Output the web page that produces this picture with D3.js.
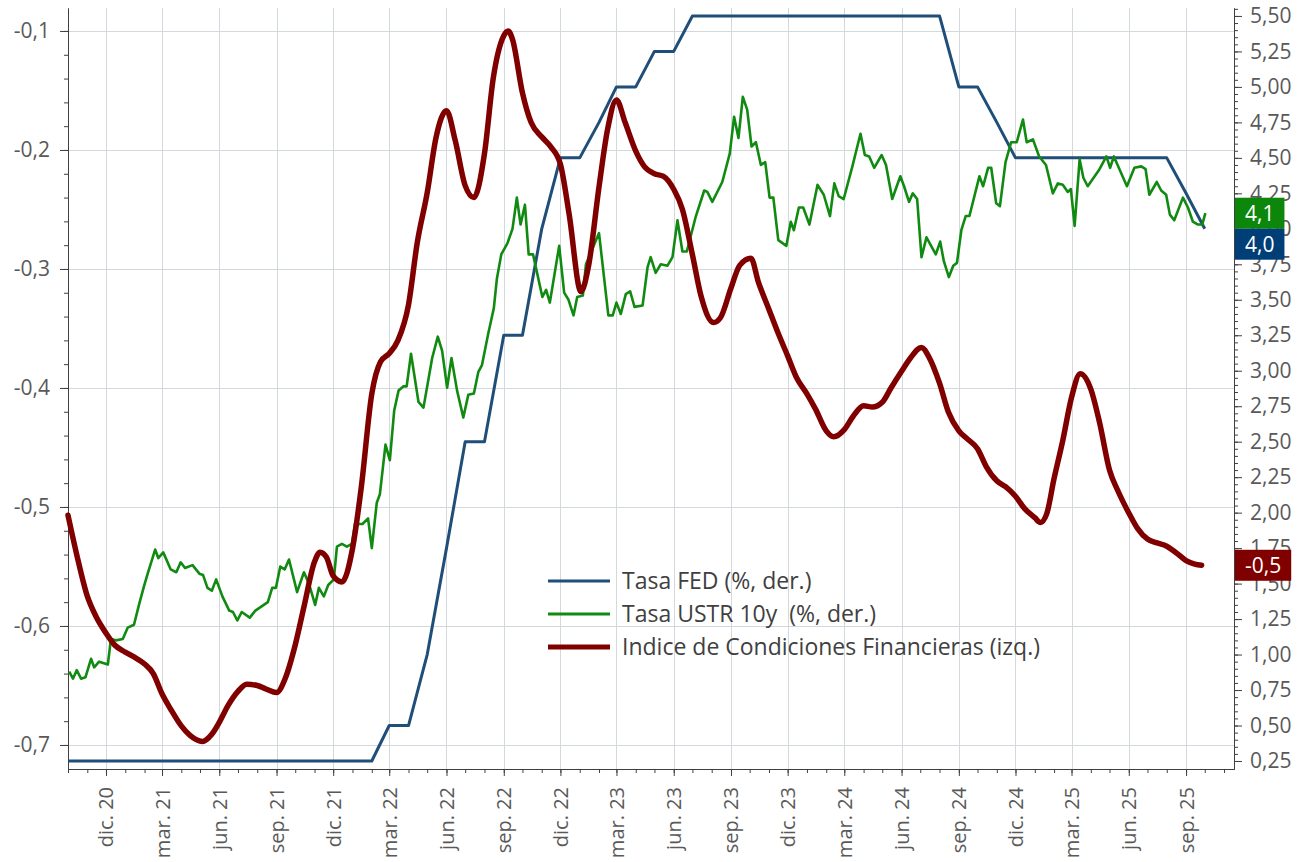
<!DOCTYPE html>
<html>
<head>
<meta charset="utf-8">
<script src="https://cdn.jsdelivr.net/npm/d3@7"></script>
<style>
  body { margin: 0; background: #fff; }
  text { font-family: "Open Sans", "Noto Sans", sans-serif; }
</style>
</head>
<body>
<script>

// ---- data ----

// Tasa FED (%), monthly, first point Oct 2020
var fedStart = "2020-10-01";
var fedValues = [
  0.25, 0.25, 0.25, 0.25, 0.25, 0.25, 0.25, 0.25, 0.25, 0.25, 0.25, 0.25,
  0.25, 0.25, 0.25, 0.25, 0.25,
  0.5, 0.5, 1.0, 1.75, 2.5, 2.5, 3.25, 3.25, 4.0, 4.5,
  4.5, 4.75, 5.0, 5.0, 5.25, 5.25, 5.5, 5.5, 5.5, 5.5, 5.5, 5.5,
  5.5, 5.5, 5.5, 5.5, 5.5, 5.5, 5.5, 5.5, 5.0, 5.0, 4.75, 4.5,
  4.5, 4.5, 4.5, 4.5, 4.5, 4.5, 4.5, 4.5, 4.25, 4.0
];

// Tasa USTR 10y (%)
var ustrDates = [
  "2020-10-03","2020-10-09","2020-10-15","2020-10-22","2020-10-29","2020-11-07","2020-11-12","2020-11-20",
  "2020-12-04","2020-12-09","2020-12-17","2020-12-28","2021-01-05","2021-01-15","2021-01-23","2021-01-31",
  "2021-02-06","2021-02-18","2021-02-23","2021-03-03","2021-03-15","2021-03-24","2021-03-31","2021-04-07",
  "2021-04-19","2021-04-30","2021-05-06","2021-05-13","2021-05-20","2021-05-27","2021-06-06","2021-06-17",
  "2021-06-23","2021-06-30","2021-07-07","2021-07-20","2021-07-29","2021-08-18","2021-08-25","2021-08-31",
  "2021-09-07","2021-09-14","2021-09-21","2021-10-04","2021-10-15","2021-10-23","2021-11-02","2021-11-08",
  "2021-11-16","2021-11-23","2021-12-02","2021-12-07","2021-12-15","2021-12-23","2021-12-31","2022-01-05",
  "2022-01-17","2022-01-26","2022-02-01","2022-02-09","2022-02-14","2022-02-23","2022-03-02","2022-03-09",
  "2022-03-16","2022-03-24","2022-03-29","2022-04-05","2022-04-17","2022-04-25","2022-05-09","2022-05-18",
  "2022-05-25","2022-06-02","2022-06-09","2022-06-18","2022-06-28","2022-07-06","2022-07-15","2022-07-22",
  "2022-07-28","2022-08-07","2022-08-16","2022-08-21","2022-08-28","2022-09-07","2022-09-15","2022-09-22",
  "2022-09-28","2022-10-05","2022-10-11","2022-10-18","2022-11-02","2022-11-08","2022-11-14","2022-11-29",
  "2022-12-07","2022-12-14","2022-12-22","2022-12-28","2023-01-06","2023-01-11","2023-02-01","2023-02-16",
  "2023-02-23","2023-03-01","2023-03-08","2023-03-16","2023-03-23","2023-03-30","2023-04-12","2023-04-20",
  "2023-04-25","2023-05-03","2023-05-11","2023-05-22","2023-05-30","2023-06-07","2023-06-15","2023-06-22",
  "2023-07-06","2023-07-20","2023-07-25","2023-08-02","2023-08-18","2023-08-30","2023-09-06","2023-09-13",
  "2023-09-20","2023-09-27","2023-10-04","2023-10-11","2023-10-19","2023-10-26","2023-11-02","2023-11-08",
  "2023-11-16","2023-11-29","2023-12-06","2023-12-11","2023-12-19","2023-12-26","2024-01-05","2024-01-18",
  "2024-01-28","2024-02-07","2024-02-14","2024-02-21","2024-02-29","2024-03-14","2024-03-27","2024-04-03",
  "2024-04-10","2024-04-18","2024-04-30","2024-05-07","2024-05-17","2024-05-30","2024-06-05","2024-06-13",
  "2024-06-19","2024-06-26","2024-07-03","2024-07-11","2024-07-26","2024-08-02","2024-08-08","2024-08-16",
  "2024-08-23","2024-08-29","2024-09-05","2024-09-12","2024-09-18","2024-10-04","2024-10-10","2024-10-18",
  "2024-10-23","2024-10-31","2024-11-06","2024-11-15","2024-11-24","2024-12-03","2024-12-13","2024-12-19",
  "2024-12-29","2025-01-08","2025-01-19","2025-01-30","2025-02-07","2025-02-15","2025-02-23","2025-02-28",
  "2025-03-06","2025-03-14","2025-03-20","2025-03-27","2025-04-15","2025-04-26","2025-05-02","2025-05-08",
  "2025-05-17","2025-05-29","2025-06-10","2025-06-21","2025-06-28","2025-07-04","2025-07-16","2025-07-23",
  "2025-07-31","2025-08-06","2025-08-13","2025-08-27","2025-09-04","2025-09-12","2025-09-20","2025-09-27",
  "2025-10-02"
];
var ustrValues = [
  0.88, 0.83, 0.89, 0.83, 0.84, 0.97, 0.91, 0.95,
  0.93, 1.11, 1.10, 1.11, 1.19, 1.21, 1.35, 1.48,
  1.57, 1.74, 1.68, 1.72, 1.60, 1.58, 1.65, 1.61,
  1.63, 1.57, 1.56, 1.47, 1.45, 1.53, 1.41, 1.31,
  1.30, 1.24, 1.30, 1.26, 1.31, 1.37, 1.47, 1.47,
  1.62, 1.60, 1.67, 1.44, 1.58, 1.50, 1.35, 1.47,
  1.41, 1.49, 1.53, 1.76, 1.78, 1.76, 1.78, 1.92,
  1.92, 1.96, 1.75, 2.07, 2.13, 2.48, 2.37, 2.72,
  2.86, 2.89, 2.89, 3.12, 2.78, 2.74, 3.09, 3.24,
  3.14, 2.88, 3.09, 2.86, 2.67, 2.83, 2.84, 2.99,
  3.04, 3.26, 3.44, 3.65, 3.82, 3.90, 4.00, 4.22,
  4.03, 4.17, 3.82, 3.82, 3.52, 3.57, 3.48, 3.88,
  3.55, 3.50, 3.39, 3.52, 3.53, 3.75, 3.97, 3.39,
  3.39, 3.48, 3.40, 3.54, 3.56, 3.45, 3.46, 3.73,
  3.80, 3.69, 3.75, 3.74, 3.80, 4.06, 3.84, 3.84,
  4.08, 4.27, 4.26, 4.19, 4.33, 4.53, 4.79, 4.64,
  4.93, 4.84, 4.58, 4.61, 4.45, 4.47, 4.22, 4.22,
  3.92, 3.88, 4.05, 3.99, 4.15, 4.15, 4.03, 4.31,
  4.24, 4.09, 4.32, 4.23, 4.21, 4.44, 4.67, 4.52,
  4.51, 4.43, 4.52, 4.45, 4.21, 4.37, 4.30, 4.19,
  4.25, 4.21, 3.80, 3.94, 3.82, 3.91, 3.77, 3.66,
  3.74, 3.76, 3.99, 4.09, 4.09, 4.37, 4.30, 4.43,
  4.43, 4.18, 4.16, 4.47, 4.61, 4.61, 4.77, 4.61,
  4.63, 4.51, 4.45, 4.25, 4.32, 4.31, 4.26, 4.28,
  4.02, 4.49, 4.36, 4.30, 4.42, 4.51, 4.43, 4.51,
  4.42, 4.30, 4.43, 4.44, 4.42, 4.24, 4.33, 4.27,
  4.24, 4.10, 4.06, 4.22, 4.15, 4.05, 4.03, 4.03,
  4.11
];

// Indice de Condiciones Financieras (izq.)
var icfDates = [
  "2020-10-01","2020-10-15","2020-11-01","2020-11-15","2020-12-01","2020-12-15","2021-01-01","2021-01-15",
  "2021-02-01","2021-02-15","2021-03-01","2021-03-15","2021-04-01","2021-04-15","2021-05-05","2021-05-20",
  "2021-06-01","2021-06-15","2021-07-01","2021-07-15","2021-08-01","2021-08-15","2021-09-01","2021-09-15",
  "2021-10-01","2021-10-15","2021-11-01","2021-11-10","2021-11-20","2021-12-01","2021-12-15","2022-01-01",
  "2022-01-15","2022-02-01","2022-02-15","2022-03-01","2022-03-15","2022-04-01","2022-04-15","2022-05-01",
  "2022-05-15","2022-06-01","2022-06-15","2022-07-01","2022-07-15","2022-08-01","2022-08-15","2022-09-01",
  "2022-09-08","2022-09-15","2022-10-01","2022-10-15","2022-11-01","2022-11-15","2022-12-01","2022-12-15",
  "2023-01-03","2023-01-15","2023-02-01","2023-02-15","2023-03-01","2023-03-15","2023-04-01","2023-04-15",
  "2023-05-01","2023-05-15","2023-06-01","2023-06-15","2023-07-01","2023-07-15","2023-08-04","2023-08-15",
  "2023-09-01","2023-09-15","2023-10-03","2023-10-15","2023-11-01","2023-11-15","2023-12-01","2023-12-15",
  "2024-01-01","2024-01-15","2024-02-01","2024-02-13","2024-03-01","2024-03-15","2024-04-01","2024-04-15",
  "2024-05-01","2024-05-15","2024-06-01","2024-06-15","2024-07-03","2024-07-15","2024-08-01","2024-08-15",
  "2024-09-01","2024-09-15","2024-10-01","2024-10-15","2024-11-01","2024-11-15","2024-12-01","2024-12-15",
  "2025-01-01","2025-01-10","2025-01-20","2025-02-01","2025-02-15","2025-03-01","2025-03-15","2025-04-01",
  "2025-04-15","2025-05-01","2025-05-15","2025-06-01","2025-06-15","2025-07-01","2025-07-15","2025-08-01",
  "2025-08-15","2025-09-01","2025-09-15","2025-09-26"
];
var icfValues = [
  -0.507, -0.540, -0.575, -0.592, -0.606, -0.616, -0.622, -0.626,
  -0.632, -0.640, -0.657, -0.670, -0.684, -0.692, -0.697, -0.691,
  -0.681, -0.667, -0.655, -0.649, -0.650, -0.653, -0.656, -0.644,
  -0.616, -0.584, -0.546, -0.538, -0.542, -0.558, -0.563, -0.535,
  -0.484, -0.405, -0.378, -0.371, -0.360, -0.330, -0.278, -0.236,
  -0.190, -0.167, -0.192, -0.230, -0.240, -0.203, -0.140, -0.104,
  -0.100, -0.107, -0.152, -0.177, -0.189, -0.197, -0.212, -0.254,
  -0.319, -0.298, -0.231, -0.182, -0.158, -0.177, -0.201, -0.214,
  -0.220, -0.222, -0.233, -0.250, -0.288, -0.323, -0.345, -0.341,
  -0.316, -0.297, -0.291, -0.311, -0.334, -0.353, -0.373, -0.391,
  -0.405, -0.418, -0.436, -0.441, -0.435, -0.424, -0.415, -0.416,
  -0.412, -0.400, -0.386, -0.375, -0.366, -0.374, -0.396, -0.420,
  -0.436, -0.443, -0.451, -0.466, -0.478, -0.483, -0.491, -0.501,
  -0.509, -0.513, -0.506, -0.476, -0.444, -0.408, -0.388, -0.401,
  -0.429, -0.469, -0.487, -0.505, -0.518, -0.527, -0.530, -0.533,
  -0.538, -0.545, -0.548, -0.549
];

// axis ticks and labels
var leftTicks = [-0.7, -0.6, -0.5, -0.4, -0.3, -0.2, -0.1];
var rightTicks = [0.25, 0.5, 0.75, 1.0, 1.25, 1.5, 1.75, 2.0, 2.25, 2.5, 2.75,
                  3.0, 3.25, 3.5, 3.75, 4.0, 4.25, 4.5, 4.75, 5.0, 5.25, 5.5];
var monthNames = ["ene.", "feb.", "mar.", "abr.", "may.", "jun.",
                  "jul.", "ago.", "sep.", "oct.", "nov.", "dic."];
var legendNames = ["Tasa FED (%, der.)", "Tasa USTR 10y  (%, der.)", "Indice de Condiciones Financieras (izq.)"];

// ---- chart ----

var svgWidth = 1302;
var svgHeight = 862;

var margin = { top: 8, right: 68, bottom: 93, left: 68 };
var chartWidth = svgWidth - margin.left - margin.right;
var chartHeight = svgHeight - margin.top - margin.bottom;

var colorFed = "#1f4e79";
var colorUstr = "#118a11";
var colorIcf = "#800000";

var parseDate = d3.utcParse("%Y-%m-%d");

var es = d3.formatLocale({ decimal: ",", thousands: ".", grouping: [3], currency: ["", " €"], minus: "-" });
var fmt1 = es.format(".1f");
var fmt2 = es.format(".2f");

var fedData = fedValues.map(function(v, i) {
  return { date: d3.utcMonth.offset(parseDate(fedStart), i), value: v };
});
var ustrData = ustrDates.map(function(d, i) { return { date: parseDate(d), value: ustrValues[i] }; });
var icfData = icfDates.map(function(d, i) { return { date: parseDate(d), value: icfValues[i] }; });

var svg = d3.select("body")
  .append("svg")
  .attr("width", svgWidth)
  .attr("height", svgHeight);

var g = svg.append("g")
  .attr("transform", `translate(${margin.left}, ${margin.top})`);

var xScale = d3.scaleUtc()
  .domain([parseDate("2020-10-01"), parseDate("2025-11-17")])
  .range([0, chartWidth]);

var yLeft = d3.scaleLinear()
  .domain([-0.7202, -0.0807])
  .range([chartHeight, 0]);

var yRight = d3.scaleLinear()
  .domain([0.1936, 5.556])
  .range([chartHeight, 0]);

var allMonths = d3.utcMonth.range(xScale.domain()[0], xScale.domain()[1]);
var quarterMonths = allMonths.filter(function(d) { return d.getUTCMonth() % 3 === 2; });

// gridlines
var gridColor = "#d3d8dd";
g.append("g")
  .selectAll("line")
  .data(leftTicks)
  .enter()
  .append("line")
  .attr("x1", 0)
  .attr("x2", chartWidth)
  .attr("y1", d => Math.round(yLeft(d)) + 0.5)
  .attr("y2", d => Math.round(yLeft(d)) + 0.5)
  .attr("stroke", gridColor);

g.append("g")
  .selectAll("line")
  .data(quarterMonths)
  .enter()
  .append("line")
  .attr("x1", d => Math.round(xScale(d)) + 0.5)
  .attr("x2", d => Math.round(xScale(d)) + 0.5)
  .attr("y1", 0)
  .attr("y2", chartHeight)
  .attr("stroke", gridColor);

// axes
var axisColor = "#404040";
var labelColor = "#595959";

function styleAxis(sel, size) {
  sel.selectAll(".domain").attr("stroke", axisColor);
  sel.selectAll(".tick line").attr("stroke", axisColor);
  sel.selectAll("text").attr("fill", labelColor).style("font-size", (size || 21) + "px");
}

// left axis
var minorLeft = d3.range(0, 31).map(i => Math.round((-0.7 + i * 0.02) * 100) / 100);
g.append("g")
  .call(d3.axisLeft(yLeft).tickValues(minorLeft).tickSize(4).tickSizeOuter(0).tickFormat(""))
  .call(styleAxis);
g.append("g")
  .call(d3.axisLeft(yLeft).tickValues(leftTicks).tickSize(8).tickSizeOuter(0).tickPadding(10).tickFormat(fmt1))
  .call(styleAxis);

// right axis
var minorRight = d3.range(0, 107).map(i => Math.round((0.25 + i * 0.05) * 100) / 100);
g.append("g")
  .attr("transform", `translate(${chartWidth}, 0)`)
  .call(d3.axisRight(yRight).tickValues(minorRight).tickSize(4).tickSizeOuter(0).tickFormat(""))
  .call(styleAxis);
g.append("g")
  .attr("transform", `translate(${chartWidth}, 0)`)
  .call(d3.axisRight(yRight).tickValues(rightTicks).tickSize(8).tickSizeOuter(0).tickPadding(8).tickFormat(fmt2))
  .call(styleAxis);

// bottom axis
g.append("g")
  .attr("transform", `translate(0, ${chartHeight})`)
  .call(d3.axisBottom(xScale).tickValues(allMonths).tickSize(4).tickSizeOuter(0).tickFormat(""))
  .call(styleAxis);
var xAxis = g.append("g")
  .attr("transform", `translate(0, ${chartHeight})`)
  .call(d3.axisBottom(xScale).tickValues(quarterMonths).tickSize(7).tickSizeOuter(0)
    .tickFormat(d => monthNames[d.getUTCMonth()] + " " + d3.utcFormat("%y")(d)))
  .call(styleAxis, 20);
xAxis.selectAll("text")
  .attr("transform", "rotate(-90)")
  .attr("text-anchor", "end")
  .attr("x", -18)
  .attr("y", 0)
  .attr("dy", "0.35em");

// lines
var fedLine = d3.line()
  .x(d => xScale(d.date))
  .y(d => yRight(d.value));

var ustrLine = d3.line()
  .x(d => xScale(d.date))
  .y(d => yRight(d.value));

var icfLine = d3.line()
  .curve(d3.curveMonotoneX)
  .x(d => xScale(d.date))
  .y(d => yLeft(d.value));

g.append("path")
  .datum(fedData)
  .attr("d", fedLine)
  .attr("fill", "none")
  .attr("stroke", colorFed)
  .attr("stroke-width", 3)
  .attr("stroke-linejoin", "round");

g.append("path")
  .datum(ustrData)
  .attr("d", ustrLine)
  .attr("fill", "none")
  .attr("stroke", colorUstr)
  .attr("stroke-width", 2.6)
  .attr("stroke-linejoin", "round");

g.append("path")
  .datum(icfData)
  .attr("d", icfLine)
  .attr("fill", "none")
  .attr("stroke", colorIcf)
  .attr("stroke-width", 5.5)
  .attr("stroke-linejoin", "round")
  .attr("stroke-linecap", "round");

// legend
var legendColors = [colorFed, colorUstr, colorIcf];
var legendWidths = [3, 3, 5];
var legend = svg.append("g").attr("transform", "translate(548, 581)");
legendNames.forEach(function(name, i) {
  var row = legend.append("g").attr("transform", `translate(0, ${i * 33})`);
  row.append("line")
    .attr("x1", 0).attr("x2", 62)
    .attr("stroke", legendColors[i])
    .attr("stroke-width", legendWidths[i]);
  row.append("text")
    .attr("x", 74)
    .attr("dy", "0.35em")
    .attr("fill", "#404040")
    .style("font-size", "23px")
    .style("white-space", "pre")
    .text(name);
});

// end-of-series value boxes
var endLabels = [
  { value: ustrValues[ustrValues.length - 1], y: yRight(ustrValues[ustrValues.length - 1]), color: "#0c870c" },
  { value: fedValues[fedValues.length - 1], y: yRight(fedValues[fedValues.length - 1]), color: "#003e78" },
  { value: icfValues[icfValues.length - 1], y: yLeft(icfValues[icfValues.length - 1]), color: "#800000" }
];
var boxH = 31;
var prevBottom = -Infinity;
endLabels.forEach(function(lab) {
  var top = Math.max(lab.y - boxH / 2, prevBottom);
  prevBottom = top + boxH;
  var grp = g.append("g").attr("transform", `translate(${chartWidth + 1}, ${top})`);
  var rect = grp.append("rect").attr("height", boxH).attr("fill", lab.color);
  var txt = grp.append("text")
    .attr("y", boxH / 2)
    .attr("dy", "0.35em")
    .attr("text-anchor", "middle")
    .attr("fill", "#fff")
    .style("font-size", "21px")
    .text(fmt1(lab.value));
  var w = txt.node().getComputedTextLength() + 20;
  rect.attr("width", w);
  txt.attr("x", w / 2);
});

</script>
</body>
</html>
